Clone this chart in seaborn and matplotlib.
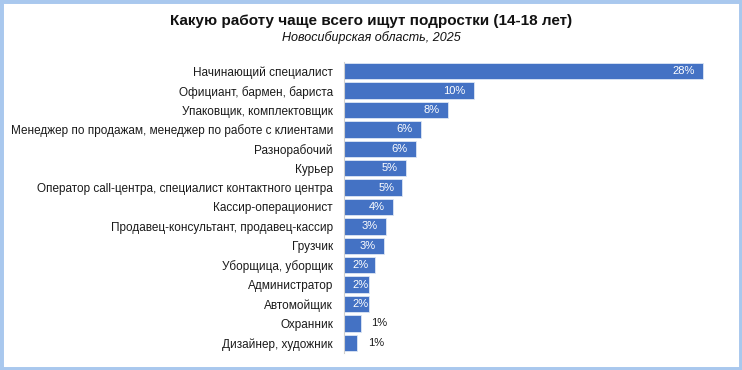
import numpy as np
import pandas as pd
import seaborn as sns
import matplotlib
matplotlib.use("Agg")
from matplotlib import pyplot as plt
from matplotlib.patches import Rectangle

professions = [
    "Начинающий специалист",
    "Официант, бармен, бариста",
    "Упаковщик, комплектовщик",
    "Менеджер по продажам, менеджер по работе с клиентами",
    "Разнорабочий",
    "Курьер",
    "Оператор call-центра, специалист контактного центра",
    "Кассир-операционист",
    "Продавец-консультант, продавец-кассир",
    "Грузчик",
    "Уборщица, уборщик",
    "Администратор",
    "Автомойщик",
    "Охранник",
    "Дизайнер, художник",
]
shares = [28.0, 10.1, 8.1, 6.0, 5.6, 4.8, 4.55, 3.8, 3.25, 3.1, 2.4, 1.95, 1.95, 1.3, 1.05]

df = pd.DataFrame({"profession": professions, "share": shares})

sns.set_theme(style="white")
plt.rcParams['font.family'] = ['Liberation Sans', 'DejaVu Sans']

W, H = 742, 370
fig = plt.figure(figsize=(W / 100, H / 100), dpi=100)
fig.patch.set_facecolor("white")

# axes placed in pixel terms
left, right, top, bottom = 344, 716, 61.5, 352.5
ax = fig.add_axes([left / W, 1 - bottom / H, (right - left) / W, (bottom - top) / H])

sns.barplot(data=df, x="share", y="profession", orient="h", color="#4472C4",
            saturation=1, width=0.85, edgecolor="#dce6f5", linewidth=0.6, ax=ax)

ax.set_xlim(0, 29)
ax.set_ylim(len(professions) - 0.5, -0.5)
ax.set_xlabel("")
ax.set_ylabel("")
ax.set_xticks([])
ax.tick_params(axis="y", length=0, pad=8, labelsize=8.5, labelcolor="#1a1a1a")
for s in ["top", "right", "bottom"]:
    ax.spines[s].set_visible(False)
ax.spines["left"].set_color("#d0d0d0")
ax.spines["left"].set_linewidth(0.8)

# value labels: inside end (clamped for short bars), outside for the 1% ones
for i, v in enumerate(shares):
    lab = f"{round(v):d}%"
    if v >= 1.5:
        ax.text(max(v - 0.63, 1.95), i, lab, ha="right", va="center", color="white", fontsize=8)
    else:
        ax.text(v + 0.85, i, lab, ha="left", va="center", color="#1a1a1a", fontsize=8)

fig.text(0.5, 1 - 21 / H, "Какую работу чаще всего ищут подростки (14-18 лет)",
         ha="center", va="center", fontsize=11, fontweight="bold", color="#111111")
fig.text(0.5, 1 - 38 / H, "Новосибирская область, 2025",
         ha="center", va="center", fontsize=9, style="italic", color="#111111")

# light blue frame around the picture
fig.patches.append(Rectangle((0, 0), 1, 1, transform=fig.transFigure, fill=False,
                             edgecolor="#a9c8ee", linewidth=5, zorder=10))

fig.savefig("out.png", dpi=100)
